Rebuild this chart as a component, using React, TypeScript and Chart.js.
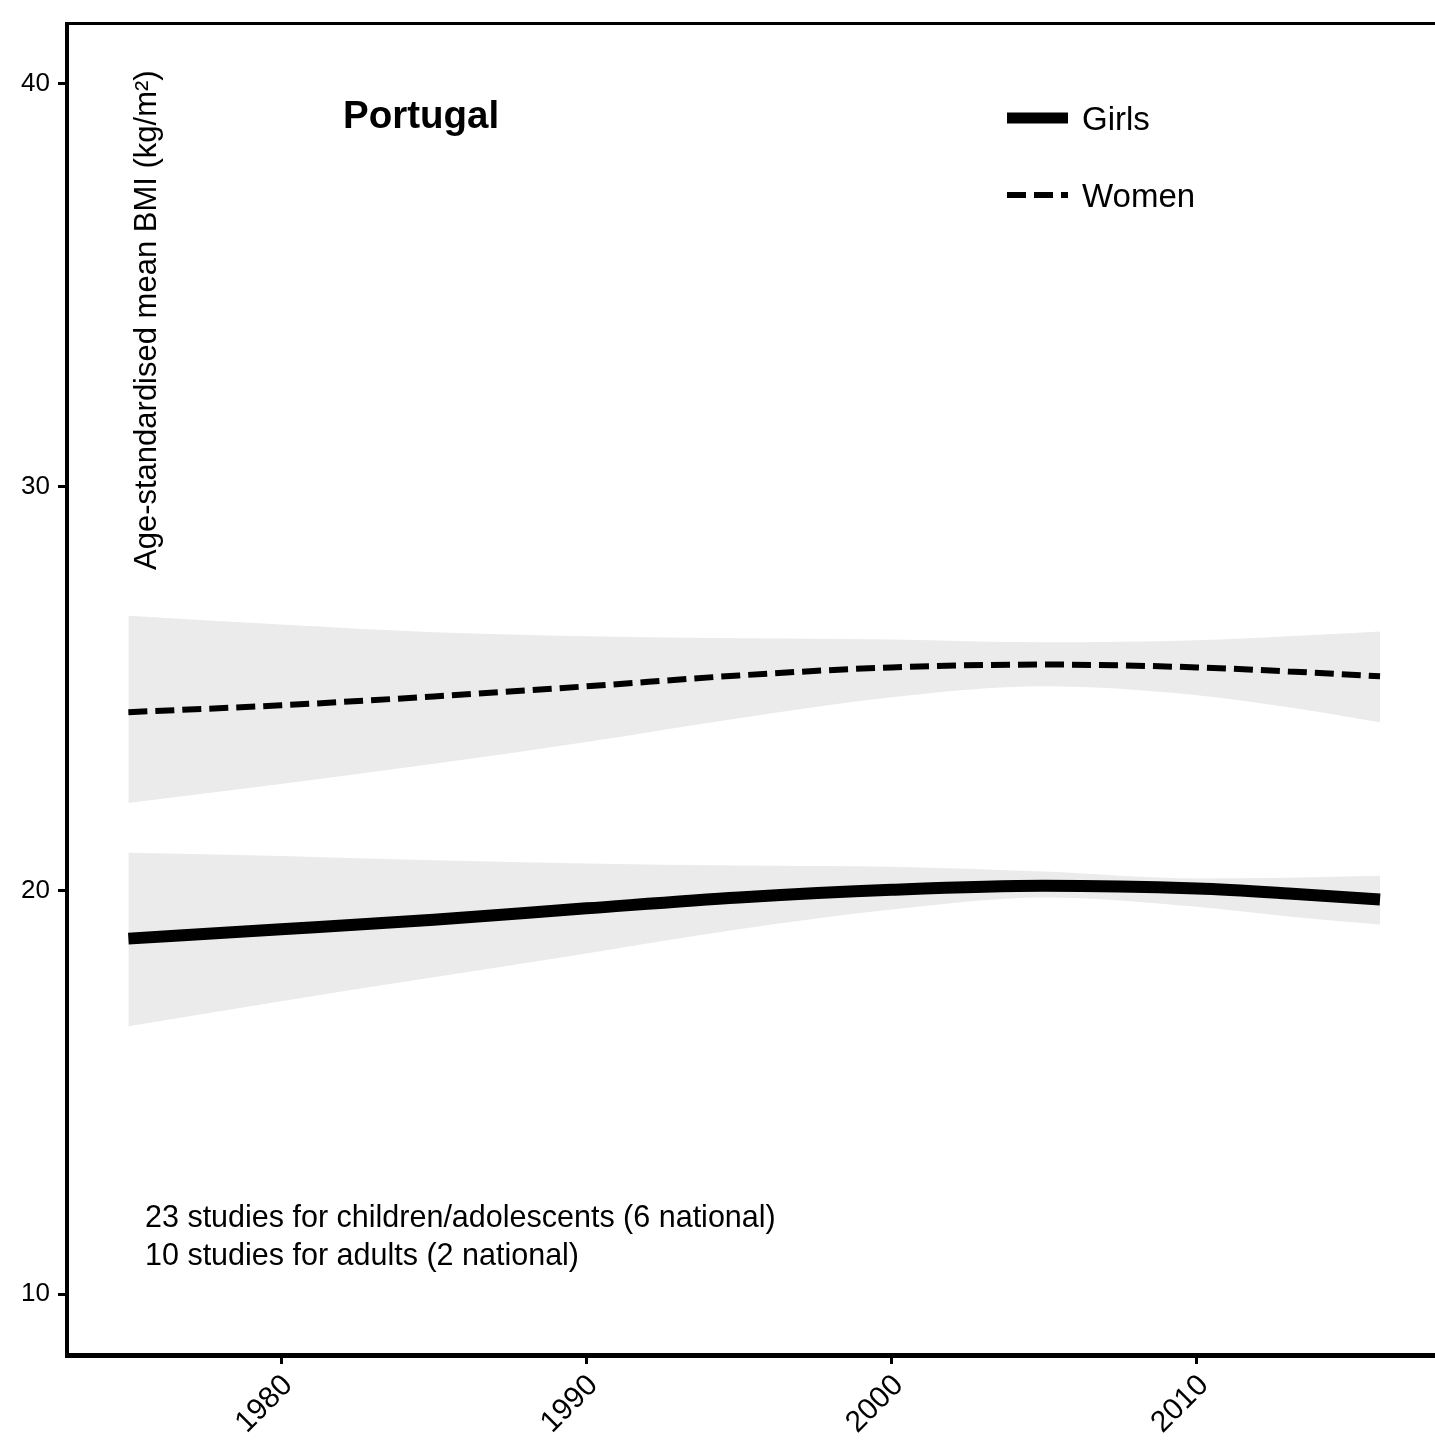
import React, { useEffect, useRef } from "react";
import { Chart, registerables } from "chart.js";

Chart.register(...registerables);

const years = [1975, 1980, 1985, 1990, 1995, 2000, 2005, 2010, 2013, 2016];
const girlsMean = [18.81, 19.04, 19.28, 19.56, 19.83, 20.02, 20.12, 20.05, 19.93, 19.78];
const girlsUpper = [20.94, 20.86, 20.75, 20.67, 20.62, 20.59, 20.47, 20.3, 20.32, 20.37];
const girlsLower = [16.64, 17.26, 17.85, 18.44, 19.04, 19.53, 19.83, 19.6, 19.36, 19.16];
const womenMean = [24.42, 24.59, 24.81, 25.06, 25.33, 25.53, 25.6, 25.53, 25.43, 25.31];
const womenUpper = [26.81, 26.59, 26.4, 26.3, 26.25, 26.22, 26.15, 26.2, 26.3, 26.42];
const womenLower = [22.17, 22.64, 23.14, 23.68, 24.27, 24.79, 25.06, 24.84, 24.54, 24.17];

const xTicks = [1980, 1990, 2000, 2010];
const yTicks = [10, 20, 30, 40];
const seriesNames = ["Girls", "Women"];
const countryTitle = "Portugal";
const yAxisTitle = "Age-standardised mean BMI (kg/m²)";
const notes = ["23 studies for children/adolescents (6 national)", "10 studies for adults (2 national)"];

const FONT = "'Liberation Sans', Arial, Helvetica, sans-serif";
const BAND = "#EBEBEB";

const pts = (ys: number[]) => years.map((x, i) => ({ x, y: ys[i] }));

const decorPlugin = {
  id: "decor",
  afterDraw(chart: any) {
    const { ctx, chartArea } = chart;
    ctx.save();
    // top border
    ctx.strokeStyle = "#000";
    ctx.lineWidth = 3;
    ctx.beginPath();
    ctx.moveTo(chartArea.left - 2, chartArea.top);
    ctx.lineTo(chartArea.right, chartArea.top);
    ctx.stroke();

    ctx.fillStyle = "#000";
    // country title
    ctx.font = `bold 38.5px ${FONT}`;
    ctx.textAlign = "left";
    ctx.textBaseline = "alphabetic";
    ctx.fillText(countryTitle, 343, 128);

    // y axis title (inside plot)
    ctx.save();
    ctx.translate(156, 570);
    ctx.rotate(-Math.PI / 2);
    ctx.font = `31px ${FONT}`;
    ctx.textAlign = "left";
    ctx.fillText(yAxisTitle, 0, 0);
    ctx.restore();

    // legend
    const lx0 = 1007, lx1 = 1068;
    ctx.lineCap = "butt";
    ctx.lineWidth = 11;
    ctx.setLineDash([]);
    ctx.beginPath();
    ctx.moveTo(lx0, 118);
    ctx.lineTo(lx1, 118);
    ctx.stroke();
    ctx.lineWidth = 6;
    ctx.setLineDash([19, 8]);
    ctx.beginPath();
    ctx.moveTo(lx0, 195);
    ctx.lineTo(lx1, 195);
    ctx.stroke();
    ctx.setLineDash([]);
    ctx.font = `33px ${FONT}`;
    ctx.fillText(seriesNames[0], 1082, 130);
    ctx.fillText(seriesNames[1], 1082, 207);

    // notes
    ctx.font = `30.5px ${FONT}`;
    notes.forEach((t, i) => ctx.fillText(t, 145, 1227 + i * 38));
    ctx.restore();
  },
};

export default function App() {
  const ref = useRef<HTMLCanvasElement | null>(null);
  useEffect(() => {
    document.body.style.margin = "0";
    const canvas = ref.current!;
    const chart = new Chart(canvas, {
      type: "line",
      data: {
        datasets: [
          {
            label: "girlsLower",
            data: pts(girlsLower),
            borderWidth: 0,
            pointRadius: 0,
            fill: false,
            cubicInterpolationMode: "monotone",
            order: 2,
          },
          {
            label: "girlsUpper",
            data: pts(girlsUpper),
            borderWidth: 0,
            pointRadius: 0,
            backgroundColor: BAND,
            fill: "-1",
            cubicInterpolationMode: "monotone",
            order: 2,
          },
          {
            label: "womenLower",
            data: pts(womenLower),
            borderWidth: 0,
            pointRadius: 0,
            fill: false,
            cubicInterpolationMode: "monotone",
            order: 2,
          },
          {
            label: "womenUpper",
            data: pts(womenUpper),
            borderWidth: 0,
            pointRadius: 0,
            backgroundColor: BAND,
            fill: "-1",
            cubicInterpolationMode: "monotone",
            order: 2,
          },
          {
            label: seriesNames[0],
            data: pts(girlsMean),
            borderColor: "#000",
            borderWidth: 12,
            pointRadius: 0,
            fill: false,
            cubicInterpolationMode: "monotone",
            borderCapStyle: "butt",
            order: 0,
          },
          {
            label: seriesNames[1],
            data: pts(womenMean),
            borderColor: "#000",
            borderWidth: 6,
            borderDash: [19, 8],
            pointRadius: 0,
            fill: false,
            cubicInterpolationMode: "monotone",
            borderCapStyle: "butt",
            order: 0,
          },
        ],
      },
      options: {
        responsive: false,
        animation: false,
        layout: { padding: { top: 19, left: 0, right: 0, bottom: 0 } },
        plugins: {
          legend: { display: false },
          tooltip: { enabled: false },
          title: { display: false },
        },
        scales: {
          x: {
            type: "linear",
            min: 1972.99,
            max: 2017.8,
            afterBuildTicks: (s: any) => {
              s.ticks = xTicks.map((v) => ({ value: v }));
            },
            afterFit: (s: any) => {
              s.height = 89;
            },
            ticks: {
              color: "#000",
              font: { size: 30, family: FONT },
              minRotation: 45,
              maxRotation: 45,
              padding: 4,
              labelOffset: 7,
              callback: (v: any) => String(v),
            },
            grid: {
              display: true,
              drawOnChartArea: false,
              drawTicks: true,
              tickLength: 9,
              tickWidth: 3,
              color: "#000",
            },
            border: { display: true, width: 5, color: "#000" },
          },
          y: {
            type: "linear",
            min: 8.494,
            max: 41.48,
            afterBuildTicks: (s: any) => {
              s.ticks = yTicks.map((v) => ({ value: v }));
            },
            afterFit: (s: any) => {
              s.width = 67;
            },
            ticks: {
              color: "#000",
              font: { size: 26, family: FONT },
              padding: 8,
              callback: (v: any) => String(v),
            },
            grid: {
              display: true,
              drawOnChartArea: false,
              drawTicks: true,
              tickLength: 9,
              tickWidth: 3,
              color: "#000",
            },
            border: { display: true, width: 4, color: "#000" },
          },
        },
      },
      plugins: [decorPlugin],
    });
    return () => chart.destroy();
  }, []);
  return (
    <div style={{ width: 1435, height: 1444 }}>
      <canvas ref={ref} width={1435} height={1444} style={{ display: "block" }} />
    </div>
  );
}
